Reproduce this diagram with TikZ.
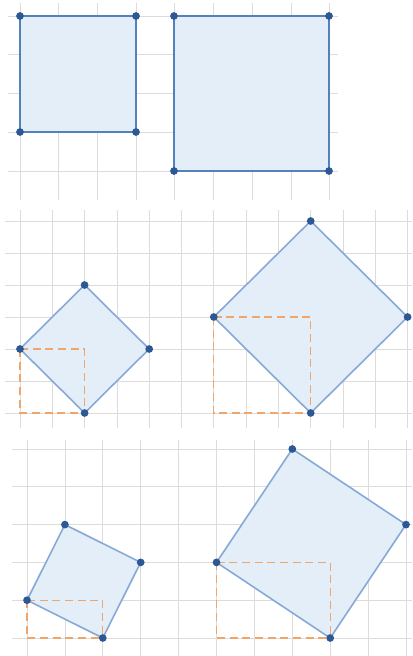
\documentclass[tikz,border=0pt]{standalone}
\begin{document}
\begin{tikzpicture}[x=0.75pt,y=-0.75pt,
  gridline/.style={draw=gridgray,line width=0.6pt},
  sqfill/.style={fill=sqblue},
  sqedge/.style={draw=edgeblue,line width=1.7pt,line join=round},
  sqedgelight/.style={draw=edgelight,line width=1.2pt,line join=round},
  helper/.style={draw=helporange,line width=1pt,dash pattern=on 6pt off 3.5pt},
  vdot/.style={circle,fill=dotblue,inner sep=0pt,minimum size=5.8pt}]
\definecolor{gridgray}{HTML}{DCDCDC}
\definecolor{sqblue}{HTML}{E4EEF9}
\definecolor{edgeblue}{HTML}{5581BB}
\definecolor{edgelight}{HTML}{86A9D6}
\definecolor{helporange}{HTML}{F0A56A}
\definecolor{dotblue}{HTML}{2C5896}
\useasboundingbox (0,0) rectangle (412,656);
% ---------- top grid ----------
\foreach \k in {0,...,8} \draw[gridline] ({20+\k*38.7},3) -- ({20+\k*38.7},200);
\foreach \j in {0,...,4} \draw[gridline] (8,{16+\j*38.75}) -- (338,{16+\j*38.75});
% ---------- middle grid ----------
\foreach \k in {0,...,12} \draw[gridline] ({20+\k*32.3},210) -- ({20+\k*32.3},428);
\foreach \j in {0,...,6} \draw[gridline] (5,{413-\j*32}) -- (412,{413-\j*32});
% ---------- bottom grid ----------
\foreach \k in {0,...,10} \draw[gridline] ({27+\k*37.9},440) -- ({27+\k*37.9},656);
\foreach \j in {0,...,5} \draw[gridline] (12,{638-\j*37.8}) -- (412,{638-\j*37.8});
% ---------- top squares ----------
\coordinate (a1) at (20,16);  \coordinate (a2) at (136,16);
\coordinate (a3) at (136,132); \coordinate (a4) at (20,132);
\coordinate (b1) at (174,16);  \coordinate (b2) at (329,16);
\coordinate (b3) at (329,171); \coordinate (b4) at (174,171);
\fill[sqfill] (a1) -- (a2) -- (a3) -- (a4) -- cycle;
\fill[sqfill] (b1) -- (b2) -- (b3) -- (b4) -- cycle;
\draw[sqedge] (a1) -- (a2) -- (a3) -- (a4) -- cycle;
\draw[sqedge] (b1) -- (b2) -- (b3) -- (b4) -- cycle;
% ---------- middle diamonds ----------
\coordinate (c1) at ({20+0*32.3},{413-2*32});
\coordinate (c2) at ({20+2*32.3},{413-4*32});
\coordinate (c3) at ({20+4*32.3},{413-2*32});
\coordinate (c4) at ({20+2*32.3},{413-0*32});
\coordinate (d1) at ({20+6*32.3},{413-3*32});
\coordinate (d2) at ({20+9*32.3},{413-6*32});
\coordinate (d3) at ({20+12*32.3},{413-3*32});
\coordinate (d4) at ({20+9*32.3},{413-0*32});
\fill[sqfill] (c1) -- (c2) -- (c3) -- (c4) -- cycle;
\fill[sqfill] (d1) -- (d2) -- (d3) -- (d4) -- cycle;
\draw[helper] (c1) -| (c4) (c1) |- (c4);
\draw[helper] (d1) -| (d4) (d1) |- (d4);
\draw[sqedgelight] (c1) -- (c2) -- (c3) -- (c4) -- cycle;
\draw[sqedgelight] (d1) -- (d2) -- (d3) -- (d4) -- cycle;
% ---------- bottom tilted squares ----------
\coordinate (e1) at ({27+0*37.9},{638-1*37.8});
\coordinate (e2) at ({27+1*37.9},{638-3*37.8});
\coordinate (e3) at ({27+3*37.9},{638-2*37.8});
\coordinate (e4) at ({27+2*37.9},{638-0*37.8});
\coordinate (f1) at ({27+5*37.9},{638-2*37.8});
\coordinate (f2) at ({27+7*37.9},{638-5*37.8});
\coordinate (f3) at ({27+10*37.9},{638-3*37.8});
\coordinate (f4) at ({27+8*37.9},{638-0*37.8});
\fill[sqfill] (e1) -- (e2) -- (e3) -- (e4) -- cycle;
\fill[sqfill] (f1) -- (f2) -- (f3) -- (f4) -- cycle;
\draw[helper] (e1) -| (e4) (e1) |- (e4);
\draw[helper] (f1) -| (f4) (f1) |- (f4);
\draw[sqedgelight] (e1) -- (e2) -- (e3) -- (e4) -- cycle;
\draw[sqedgelight] (f1) -- (f2) -- (f3) -- (f4) -- cycle;
% ---------- vertex dots ----------
\foreach \p in {a1,a2,a3,a4,b1,b2,b3,b4,c1,c2,c3,c4,d1,d2,d3,d4,e1,e2,e3,e4,f1,f2,f3,f4}
  \node[vdot] (dot-\p) at (\p) {};
\end{tikzpicture}
\end{document}
